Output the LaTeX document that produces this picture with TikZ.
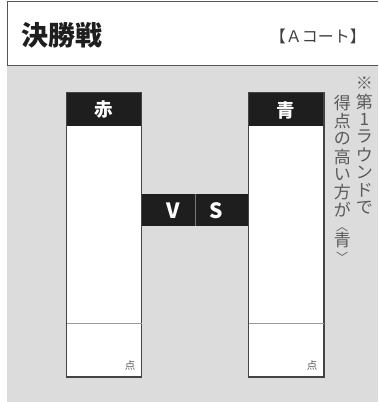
\documentclass[tikz,border=0pt]{standalone}
\usepackage{fontspec}
\newfontfamily\jp{Noto Sans CJK JP}
\definecolor{bggrey}{HTML}{DCDCDC}
\definecolor{ink}{HTML}{1E1E1E}
\definecolor{frame}{HTML}{555555}
\definecolor{boxedge}{HTML}{444444}
\definecolor{soft}{HTML}{5A5A5A}
\tikzset{
  hdrline/.style={draw=frame, line width=1.4pt},
  scorebox/.style={draw=boxedge, line width=1.3pt, fill=white},
  blackbar/.style={fill=ink},
  capchar/.style={font=\jp\bfseries\fontsize{18.5}{18.5}\selectfont, text=white, inner sep=0pt},
  vtext/.style={font=\jp\fontsize{17}{17}\selectfont, text=soft, inner sep=0pt},
  vbrack/.style={font=\jp\fontsize{12}{12}\selectfont, text=soft, inner sep=0pt, rotate=-90},
  tenmark/.style={font=\jp\fontsize{10.5}{10.5}\selectfont, text=soft, inner sep=0pt}
}
\begin{document}
\begin{tikzpicture}[x=1pt,y=-1pt]
\useasboundingbox (0,0) rectangle (378,402);
\clip (0,0) rectangle (378,402);
\fill[white] (0,0) rectangle (378,402);
% grey area
\fill[bggrey] (7.3,65.7) rectangle (380,405);
% header frame
\draw[hdrline] (7.3,1.7) rectangle (390,65.7);
\node[inner sep=0pt, font=\jp\bfseries\fontsize{27}{27}\selectfont, text=ink, anchor=west] (title) at (21.5,35) {決勝戦};
\node[inner sep=0pt, font=\jp\fontsize{16}{16}\selectfont, text=ink!85, anchor=east] (court) at (366,36) {【Ａコート】};
% VS band
\fill[blackbar] (141.7,194.3) rectangle (248.5,226);
\draw[white!40!ink, line width=0.4pt] (195,194.3) -- (195,226);
\node[inner sep=0pt, font=\jp\bfseries\fontsize{21}{21}\selectfont, text=white] (v) at (173.5,210.5) {V};
\node[inner sep=0pt, font=\jp\bfseries\fontsize{21}{21}\selectfont, text=white] (s) at (216,210.5) {S};
% left box
\draw[scorebox] (66.7,92.7) rectangle (141.7,377);
\fill[blackbar] (66.7,92.7) rectangle (141.7,125.7);
\draw[boxedge, line width=1.3pt] (66.7,92.7) rectangle (141.7,377);
\draw[gray!80, line width=0.6pt] (66.7,323.3) -- (141.7,323.3);
\node[capchar] (aka) at (104.2,110) {赤};
\node[tenmark] (tenL) at (130,365.5) {点};
% right box
\draw[scorebox] (248.5,92.7) rectangle (324,377);
\fill[blackbar] (248.5,92.7) rectangle (324,125.7);
\draw[boxedge, line width=1.3pt] (248.5,92.7) rectangle (324,377);
\draw[gray!80, line width=0.6pt] (248.5,323.3) -- (324,323.3);
\node[capchar] (ao) at (286.2,110) {青};
\node[tenmark] (tenR) at (312,365.5) {点};
% vertical note, column 1
\foreach \c/\y [count=\i] in {※/83.3,第/101.5,1/119.5,ラ/137,ウ/155,ン/172.5,ド/190,で/207.5}
  \node[vtext] (a\i) at (364.3,\y) {\c};
% column 2
\foreach \c/\y [count=\i] in {得/103.3,点/121.5,の/139,高/157,い/175,方/192.5,が/210,青/240}
  \node[vtext] (b\i) at (342.3,\y) {\c};
\node[vbrack] (lb) at (342.3,226.5) {〈};
\node[vbrack] (rb) at (342.3,257.6) {〉};
\end{tikzpicture}
\end{document}
